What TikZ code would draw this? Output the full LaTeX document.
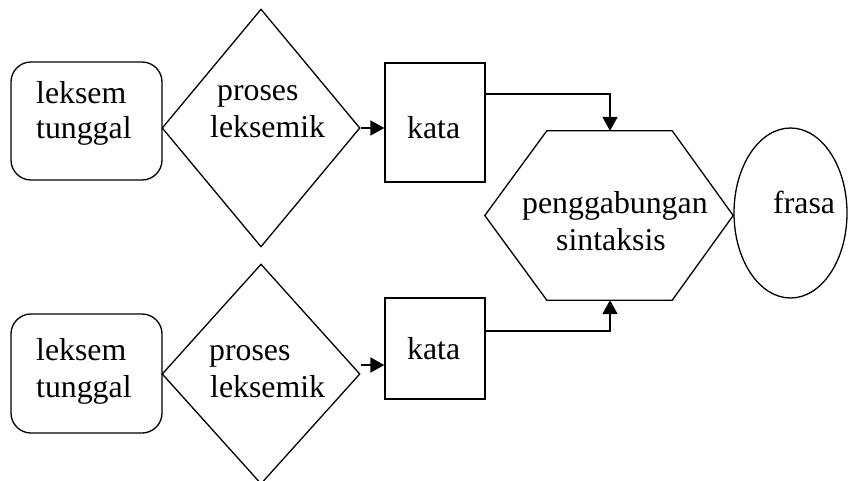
\documentclass[tikz,border=0pt]{standalone}
\usepackage{fontspec}
\setmainfont{Liberation Serif}
\usetikzlibrary{shapes.geometric,arrows.meta}
\begin{document}
\begin{tikzpicture}[x=1pt,y=-1pt,
  shp/.style={draw=black,line width=1.3pt,inner sep=0pt},
  rbox/.style={shp,rectangle,rounded corners=20pt},
  dbox/.style={shp,diamond},
  kbox/.style={shp,rectangle},
  ebox/.style={shp,ellipse},
  txt/.style={anchor=base west,inner sep=0pt,font=\fontsize{31.8}{35}\selectfont},
  conn/.style={line width=1.8pt,-{Triangle[length=14pt,width=15pt]}}
]
\useasboundingbox (0,0) rectangle (848,480);
% shapes
\node[rbox,minimum width=151pt,minimum height=118pt] (r1) at (86.5,121) {};
\node[dbox,minimum width=198pt,minimum height=238pt] (d1) at (261,128) {};
\node[kbox,minimum width=100pt,minimum height=119pt] (k1) at (435,122.5) {};
\node[inner sep=0pt,minimum width=248pt,minimum height=169pt] (hex) at (609,215.5) {};
\draw[line width=1.3pt] (hex.west) -- ([xshift=62pt]hex.north west) -- ([xshift=-61pt]hex.north east) -- (hex.east) -- ([xshift=-61pt]hex.south east) -- ([xshift=62pt]hex.south west) -- cycle;
\node[ebox,minimum width=113pt,minimum height=170pt] (e1) at (790.5,213) {};
\node[rbox,minimum width=151pt,minimum height=119pt] (r2) at (86.5,373.5) {};
\node[dbox,minimum width=198pt,minimum height=220pt] (d2) at (261,374) {};
\node[kbox,minimum width=100pt,minimum height=101pt] (k2) at (435,348.5) {};
% texts
\node[txt] (t1a) at (36,103) {leksem};
\node[txt] (t1b) at (36,138) {tunggal};
\node[txt] (t2a) at (217,100) {proses};
\node[txt] (t2b) at (210,137) {leksemik};
\node[txt] (t3) at (407,138) {kata};
\node[txt] (t4a) at (36,360) {leksem};
\node[txt] (t4b) at (36,397) {tunggal};
\node[txt] (t5a) at (209,360) {proses};
\node[txt] (t5b) at (210,397) {leksemik};
\node[txt] (t6) at (407,359) {kata};
\node[txt] (t7a) at (522,213) {penggabungan};
\node[txt] (t7b) at (556,250) {sintaksis};
\node[txt] (t8) at (773,213) {frasa};
% connectors
\draw[conn] (d1.east) -- (d1.east -| k1.west);
\draw[conn] ([yshift=9pt]d2.east) -- ([yshift=9pt]d2.east -| k2.west);
\draw[conn] ([yshift=28.5pt]k1.east) -| ([xshift=1pt]hex.north);
\draw[conn] ([yshift=17.5pt]k2.east) -| ([xshift=1pt]hex.south);
\end{tikzpicture}
\end{document}
